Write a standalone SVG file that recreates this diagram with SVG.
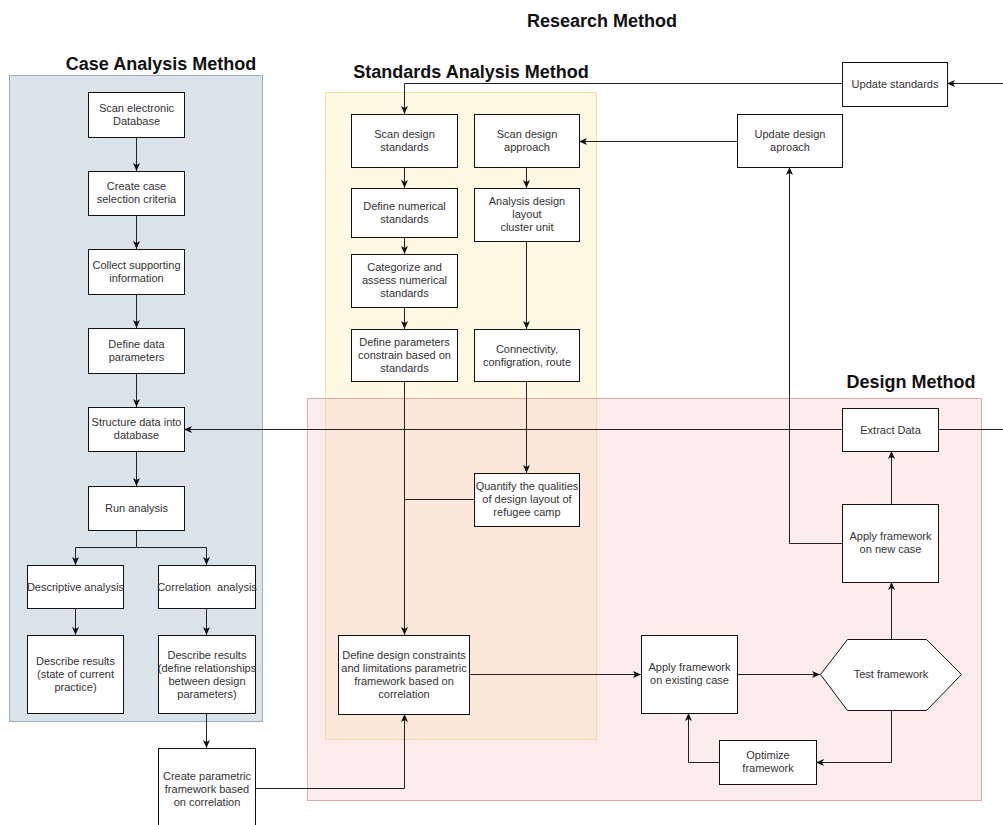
<svg xmlns="http://www.w3.org/2000/svg" width="1003" height="825" viewBox="0 0 1003 825">
  <defs>
    <style>
      .title { font-family: "Liberation Sans", Arial, sans-serif; font-size: 18px; font-weight: bold; fill: #111; text-anchor: middle; }
      .box { fill: #ffffff; stroke: #111; stroke-width: 1; }
      .lbl { font-family: "Liberation Sans", Arial, sans-serif; font-size: 11px; fill: #333; text-anchor: middle; white-space: pre; }
      .wire { fill: none; stroke: #222; stroke-width: 1; }
      .arr { marker-end: url(#head); }
    </style>
    <marker id="head" viewBox="0 0 8 8" markerWidth="8" markerHeight="8" refX="8" refY="4" orient="auto" markerUnits="userSpaceOnUse">
      <path d="M0,0.5 L8,4 L0,7.5 L2,4 Z" fill="#111"/>
    </marker>
  </defs>

  <rect width="1003" height="825" fill="#ffffff"/>

  <!-- swimlane panels -->
  <g id="panels">
    <rect x="9.5" y="75.5" width="253" height="646" fill="#dae3ea" stroke="#9aabba"/>
    <rect x="325.5" y="92.5" width="271" height="647" fill="#fff2cc" fill-opacity="0.55" stroke="#f3d98f" stroke-opacity="0.8"/>
    <rect x="307.5" y="398.5" width="674" height="402" fill="#f8cecc" fill-opacity="0.38" stroke="#dfa29e" stroke-opacity="0.9"/>
  </g>

  <!-- section headings -->
  <g id="titles">
    <text class="title" x="602" y="27">Research Method</text>
    <text class="title" x="161" y="70">Case Analysis Method</text>
    <text class="title" x="471" y="78">Standards Analysis Method</text>
    <text class="title" x="911" y="388">Design Method</text>
  </g>

  <!-- connectors -->
  <g id="connectors">
    <!-- case analysis chain -->
    <path class="wire arr" d="M136.5,137 V171"/>
    <path class="wire arr" d="M136.5,215 V249"/>
    <path class="wire arr" d="M136.5,294 V328"/>
    <path class="wire arr" d="M136.5,373 V407"/>
    <path class="wire arr" d="M136.5,451 V486"/>
    <path class="wire arr" d="M136.5,530 V547.5 H75.5 V565"/>
    <path class="wire arr" d="M136.5,547.5 H206.5 V565"/>
    <path class="wire arr" d="M75.5,608 V635"/>
    <path class="wire arr" d="M206.5,608 V635"/>
    <path class="wire arr" d="M206.5,713 V748"/>
    <path class="wire arr" d="M255,788.5 H404.5 V714"/>

    <!-- standards analysis chain -->
    <path class="wire arr" d="M842,83.5 H404.5 V114"/>
    <path class="wire arr" d="M737,141.5 H579"/>
    <path class="wire arr" d="M404.5,167 V188"/>
    <path class="wire arr" d="M404.5,237 V254"/>
    <path class="wire arr" d="M404.5,307 V329"/>
    <path class="wire arr" d="M404.5,381 V635"/>
    <path class="wire arr" d="M526.5,167 V188"/>
    <path class="wire arr" d="M526.5,241 V329"/>
    <path class="wire arr" d="M526.5,381 V473"/>
    <path class="wire" d="M474,499.5 H404.5"/>

    <!-- design method loop -->
    <path class="wire arr" d="M1003,83.5 H947"/>
    <path class="wire arr" d="M842,429.5 H184"/>
    <path class="wire" d="M938,429.5 H1003"/>
    <path class="wire arr" d="M469,674.5 H641"/>
    <path class="wire arr" d="M737,674.5 H820"/>
    <path class="wire arr" d="M891.5,639 V582"/>
    <path class="wire arr" d="M891.5,504 V451"/>
    <path class="wire arr" d="M842,543.5 H789.5 V167"/>
    <path class="wire arr" d="M891.5,710 V762.5 H816"/>
    <path class="wire arr" d="M719,762.5 H688.5 V713"/>
  </g>

  <!-- case analysis nodes -->
  <g id="scan-database">
    <rect class="box" x="88.5" y="92.5" width="96" height="45"/>
    <text class="lbl" x="136.5" y="112">Scan electronic</text>
    <text class="lbl" x="136.5" y="125">Database</text>
  </g>
  <g id="selection-criteria">
    <rect class="box" x="88.5" y="171.5" width="96" height="44"/>
    <text class="lbl" x="136.5" y="190">Create case</text>
    <text class="lbl" x="136.5" y="203">selection criteria</text>
  </g>
  <g id="collect-info">
    <rect class="box" x="88.5" y="249.5" width="96" height="45"/>
    <text class="lbl" x="136.5" y="269">Collect supporting</text>
    <text class="lbl" x="136.5" y="282">information</text>
  </g>
  <g id="define-data">
    <rect class="box" x="88.5" y="328.5" width="96" height="45"/>
    <text class="lbl" x="136.5" y="348">Define data</text>
    <text class="lbl" x="136.5" y="361">parameters</text>
  </g>
  <g id="structure-data">
    <rect class="box" x="88.5" y="407.5" width="96" height="44"/>
    <text class="lbl" x="136.5" y="426">Structure data into</text>
    <text class="lbl" x="136.5" y="439">database</text>
  </g>
  <g id="run-analysis">
    <rect class="box" x="88.5" y="486.5" width="96" height="44"/>
    <text class="lbl" x="136.5" y="512">Run analysis</text>
  </g>
  <g id="descriptive-analysis">
    <rect class="box" x="27.5" y="565.5" width="96" height="43"/>
    <text class="lbl" x="75.5" y="591">Descriptive analysis</text>
  </g>
  <g id="correlation-analysis">
    <rect class="box" x="158.5" y="565.5" width="97" height="43"/>
    <text class="lbl" x="207" y="591">Correlation  analysis</text>
  </g>
  <g id="results-current">
    <rect class="box" x="27.5" y="635.5" width="96" height="78"/>
    <text class="lbl" x="75.5" y="665">Describe results</text>
    <text class="lbl" x="75.5" y="678">(state of current</text>
    <text class="lbl" x="75.5" y="691">practice)</text>
  </g>
  <g id="results-relationships">
    <rect class="box" x="158.5" y="635.5" width="97" height="78"/>
    <text class="lbl" x="207" y="659">Describe results</text>
    <text class="lbl" x="207" y="672">(define relationships</text>
    <text class="lbl" x="207" y="685">between design</text>
    <text class="lbl" x="207" y="698">parameters)</text>
  </g>
  <g id="create-framework">
    <rect class="box" x="158.5" y="748.5" width="97" height="80"/>
    <text class="lbl" x="207" y="780">Create parametric</text>
    <text class="lbl" x="207" y="793">framework based</text>
    <text class="lbl" x="207" y="806">on correlation</text>
  </g>

  <!-- standards analysis nodes -->
  <g id="scan-standards">
    <rect class="box" x="351.5" y="114.5" width="106" height="53"/>
    <text class="lbl" x="404.5" y="138">Scan design</text>
    <text class="lbl" x="404.5" y="151">standards</text>
  </g>
  <g id="scan-approach">
    <rect class="box" x="474.5" y="114.5" width="105" height="53"/>
    <text class="lbl" x="527" y="138">Scan design</text>
    <text class="lbl" x="527" y="151">approach</text>
  </g>
  <g id="numerical-standards">
    <rect class="box" x="351.5" y="188.5" width="106" height="49"/>
    <text class="lbl" x="404.5" y="210">Define numerical</text>
    <text class="lbl" x="404.5" y="223">standards</text>
  </g>
  <g id="layout-analysis">
    <rect class="box" x="474.5" y="188.5" width="105" height="53"/>
    <text class="lbl" x="527" y="205">Analysis design</text>
    <text class="lbl" x="527" y="218">layout</text>
    <text class="lbl" x="527" y="231">cluster unit</text>
  </g>
  <g id="categorize-standards">
    <rect class="box" x="351.5" y="254.5" width="106" height="53"/>
    <text class="lbl" x="404.5" y="271">Categorize and</text>
    <text class="lbl" x="404.5" y="284">assess numerical</text>
    <text class="lbl" x="404.5" y="297">standards</text>
  </g>
  <g id="parameter-constraints">
    <rect class="box" x="351.5" y="329.5" width="106" height="52"/>
    <text class="lbl" x="404.5" y="346">Define parameters</text>
    <text class="lbl" x="404.5" y="359">constrain based on</text>
    <text class="lbl" x="404.5" y="372">standards</text>
  </g>
  <g id="connectivity">
    <rect class="box" x="474.5" y="329.5" width="105" height="52"/>
    <text class="lbl" x="527" y="353">Connectivity,</text>
    <text class="lbl" x="527" y="366">configration, route</text>
  </g>
  <g id="quantify-layout">
    <rect class="box" x="474.5" y="473.5" width="105" height="53"/>
    <text class="lbl" x="527" y="490">Quantify the qualities</text>
    <text class="lbl" x="527" y="503">of design layout of</text>
    <text class="lbl" x="527" y="516">refugee camp</text>
  </g>
  <g id="design-constraints">
    <rect class="box" x="338.5" y="635.5" width="131" height="79"/>
    <text class="lbl" x="404" y="659">Define design constraints</text>
    <text class="lbl" x="404" y="672">and limitations parametric</text>
    <text class="lbl" x="404" y="685">framework based on</text>
    <text class="lbl" x="404" y="698">correlation</text>
  </g>

  <!-- design method nodes -->
  <g id="update-standards">
    <rect class="box" x="842.5" y="62.5" width="105" height="44"/>
    <text class="lbl" x="895" y="88">Update standards</text>
  </g>
  <g id="update-approach">
    <rect class="box" x="737.5" y="114.5" width="105" height="53"/>
    <text class="lbl" x="790" y="138">Update design</text>
    <text class="lbl" x="790" y="151">aproach</text>
  </g>
  <g id="extract-data">
    <rect class="box" x="842.5" y="408.5" width="96" height="43"/>
    <text class="lbl" x="890.5" y="434">Extract Data</text>
  </g>
  <g id="apply-new-case">
    <rect class="box" x="842.5" y="504.5" width="96" height="78"/>
    <text class="lbl" x="890.5" y="540">Apply framework</text>
    <text class="lbl" x="890.5" y="553">on new case</text>
  </g>
  <g id="test-framework">
    <polygon class="box" points="820.5,674.5 847.5,639.5 926.5,639.5 961.5,674.5 926.5,710.5 847.5,710.5" stroke-width="1.7"/>
    <text class="lbl" x="891" y="678">Test framework</text>
  </g>
  <g id="apply-existing-case">
    <rect class="box" x="641.5" y="635.5" width="96" height="78"/>
    <text class="lbl" x="689.5" y="671">Apply framework</text>
    <text class="lbl" x="689.5" y="684">on existing case</text>
  </g>
  <g id="optimize-framework">
    <rect class="box" x="719.5" y="740.5" width="97" height="44"/>
    <text class="lbl" x="768" y="759">Optimize</text>
    <text class="lbl" x="768" y="772">framework</text>
  </g>
</svg>
